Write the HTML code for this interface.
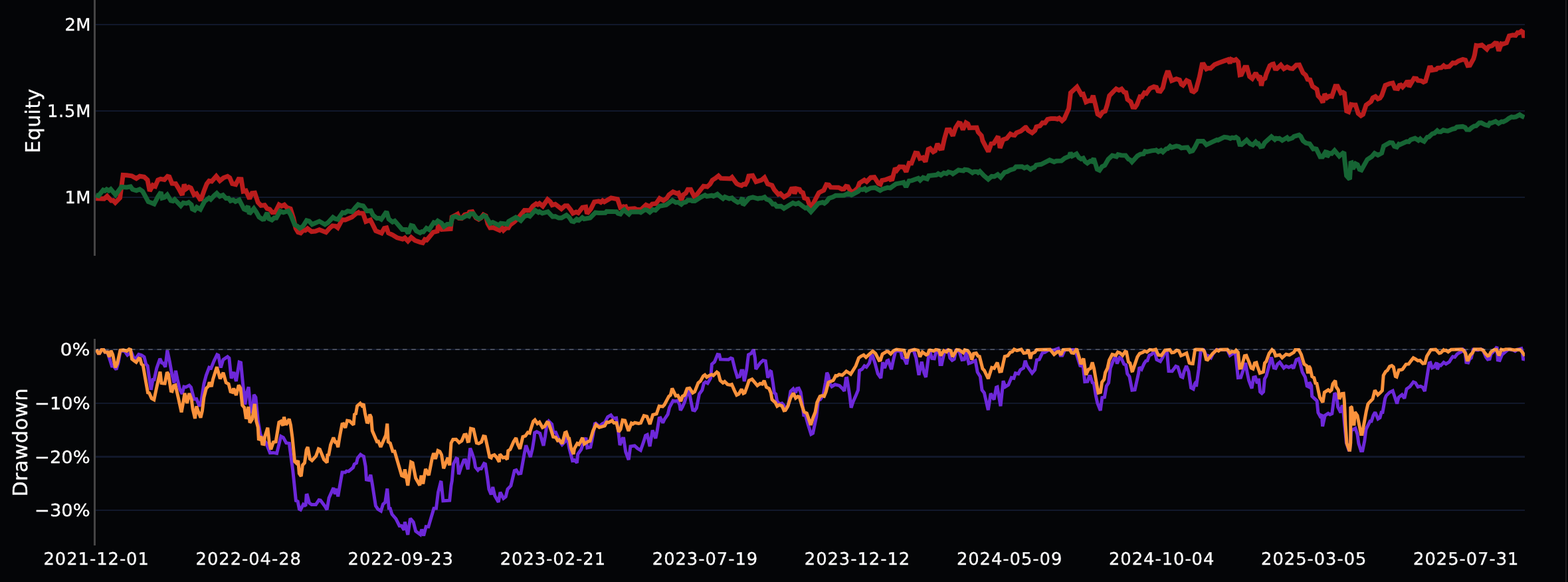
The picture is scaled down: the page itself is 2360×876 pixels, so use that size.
<!DOCTYPE html>
<html lang="en"><head><meta charset="utf-8"><title>Equity and Drawdown</title>
<style>html,body{margin:0;padding:0;background:#040507;width:2360px;height:876px;overflow:hidden}svg{display:block}text{font-family:"DejaVu Sans", "Liberation Sans", sans-serif;text-rendering:geometricPrecision;fill:#ffffff;stroke:#ffffff;stroke-width:0.3px;stroke-linejoin:round}.tk{font-size:25.8px}.tt{font-size:30.2px}.ln{fill:none;stroke-width:7.0;stroke-linejoin:miter;stroke-miterlimit:2;stroke-linecap:butt}</style></head><body>
<svg width="2360" height="876" viewBox="0 0 2360 876">
<defs><clipPath id="c1"><rect x="144" y="0" width="2151" height="386"/></clipPath><clipPath id="c2"><rect x="144" y="508" width="2151" height="314"/></clipPath></defs>
<rect x="0" y="0" width="2360" height="876" fill="#040507"/>
<rect x="2356" y="0" width="2" height="876" fill="#1c1c1e"/>
<g fill="#11182b" shape-rendering="crispEdges">
<rect x="144" y="36" width="2151" height="2"/>
<rect x="144" y="166" width="2151" height="2"/>
<rect x="144" y="296" width="2151" height="2"/>
<rect x="144" y="525" width="2151" height="2"/>
<rect x="144" y="606" width="2151" height="2"/>
<rect x="144" y="686" width="2151" height="3"/>
<rect x="144" y="767" width="2151" height="2"/>
</g>
<g clip-path="url(#c1)">
<path class="ln" stroke="#b91c1c" d="M144.2,298.8 L156.8,299.1 L161.2,295.2 L167.3,301.9 L170.4,301.7 L173.5,304.9 L180.5,297.9 L185.2,263.4 L190.8,263.7 L198.5,264.9 L205.2,268.6 L210.4,265.2 L217.0,266.2 L222.0,270.9 L225.3,287.5 L230.0,278.8 L233.7,280.4 L237.7,271.0 L241.7,269.3 L247.5,270.4 L252.1,265.4 L254.9,266.1 L259.0,276.2 L264.4,276.4 L268.8,283.6 L274.2,293.5 L277.2,277.7 L280.1,284.2 L284.2,281.5 L287.3,282.9 L292.0,293.2 L295.8,291.5 L302.0,301.6 L306.9,287.8 L311.2,276.8 L314.7,272.2 L318.7,272.9 L325.5,265.2 L330.9,272.0 L336.6,267.5 L342.5,265.3 L345.8,267.5 L349.6,276.5 L354.8,277.7 L359.0,269.7 L363.1,269.9 L366.1,288.0 L370.2,287.1 L375.6,299.2 L379.3,290.8 L383.5,290.3 L388.3,304.7 L392.7,309.4 L398.3,308.7 L402.0,313.9 L406.0,315.1 L409.7,319.6 L414.2,319.5 L420.0,308.0 L423.9,310.2 L428.0,308.2 L431.6,312.3 L437.2,314.3 L441.7,328.5 L445.1,343.7 L448.6,349.5 L452.5,350.7 L456.2,346.6 L459.4,346.9 L462.9,343.9 L468.9,348.6 L474.7,348.0 L480.7,345.7 L490.7,349.7 L495.9,343.7 L500.3,339.8 L505.2,340.4 L508.4,342.8 L514.9,330.7 L519.7,330.9 L525.6,328.5 L529.8,326.8 L535.8,321.7 L539.4,319.9 L540.2,320.8 L546.4,321.1 L550.7,333.5 L557.5,331.0 L565.6,347.4 L574.3,350.8 L578.4,343.6 L581.8,342.8 L584.6,350.8 L590.8,353.6 L597.6,357.8 L606.0,360.0 L609.4,358.0 L614.0,362.9 L619.0,357.4 L624.7,362.0 L632.4,364.6 L636.3,365.5 L639.4,360.4 L642.4,361.3 L652.0,349.5 L658.2,348.0 L659.9,337.8 L664.8,345.4 L678.2,344.4 L680.2,326.7 L684.1,324.7 L688.6,322.2 L691.3,328.5 L694.9,328.6 L699.4,323.2 L705.0,321.9 L706.4,319.2 L710.9,318.6 L716.4,328.0 L720.5,330.2 L723.9,328.1 L727.6,323.2 L731.2,325.0 L734.1,336.6 L737.7,342.9 L742.5,342.6 L751.5,346.4 L754.4,340.8 L757.9,346.5 L762.1,342.8 L765.2,342.9 L768.0,338.3 L773.9,334.1 L780.7,327.3 L789.3,316.6 L797.4,316.7 L801.9,310.3 L806.9,306.7 L809.4,308.0 L812.0,306.2 L817.0,310.3 L824.1,300.2 L828.1,303.6 L831.0,308.6 L835.7,307.3 L845.0,314.4 L850.3,309.7 L854.2,309.8 L858.6,315.4 L862.3,321.2 L867.1,319.1 L870.3,320.5 L876.6,312.3 L881.6,311.5 L883.5,321.6 L889.2,314.6 L894.5,303.9 L901.0,302.9 L904.3,304.5 L907.0,302.0 L909.6,303.8 L919.7,297.9 L929.5,299.7 L933.7,312.4 L937.3,311.2 L940.6,316.4 L940.6,308.2 L943.6,315.8 L946.8,314.4 L955.2,313.7 L958.6,315.3 L964.5,315.8 L972.3,308.4 L978.0,311.0 L981.6,307.0 L987.3,306.5 L992.8,298.7 L998.5,301.9 L1003.6,298.3 L1006.9,293.2 L1012.9,288.7 L1018.8,291.2 L1021.1,290.4 L1025.6,301.4 L1028.3,293.3 L1032.3,290.6 L1035.2,285.2 L1039.6,285.2 L1044.6,295.2 L1048.5,293.2 L1058.8,280.2 L1064.5,281.0 L1068.8,277.1 L1072.2,271.2 L1077.3,267.8 L1081.4,264.7 L1085.0,268.4 L1099.2,268.9 L1101.8,266.8 L1108.7,276.2 L1112.0,278.0 L1116.2,279.3 L1118.9,277.3 L1122.0,277.5 L1124.7,272.9 L1126.9,264.9 L1132.8,264.2 L1137.9,273.6 L1145.9,271.2 L1150.6,267.3 L1155.4,276.9 L1161.9,279.0 L1165.4,285.6 L1171.5,292.5 L1174.6,291.3 L1176.4,293.2 L1180.0,296.6 L1187.3,292.3 L1191.2,284.3 L1193.7,284.0 L1195.8,291.3 L1198.9,284.0 L1203.3,285.0 L1205.4,288.8 L1208.4,290.1 L1210.7,298.0 L1215.2,299.5 L1220.4,314.0 L1228.1,298.3 L1232.5,290.0 L1239.8,286.3 L1243.8,277.8 L1247.5,278.2 L1250.3,281.9 L1262.0,282.2 L1267.1,284.7 L1270.3,284.4 L1273.3,280.3 L1276.2,280.8 L1280.2,288.4 L1285.7,287.9 L1290.8,283.1 L1293.6,275.5 L1300.9,271.0 L1304.4,273.5 L1310.5,267.2 L1316.0,266.6 L1322.2,276.3 L1325.1,277.5 L1327.6,271.5 L1333.2,270.3 L1339.2,268.0 L1340.5,270.3 L1343.0,269.7 L1347.3,253.1 L1349.9,256.2 L1353.8,251.0 L1360.0,251.2 L1363.9,258.7 L1368.3,245.6 L1371.9,245.7 L1377.8,230.3 L1381.2,230.7 L1384.5,238.5 L1389.0,237.2 L1392.9,243.5 L1397.1,224.7 L1400.0,223.5 L1404.6,228.5 L1407.6,226.8 L1411.0,216.4 L1414.9,223.7 L1418.3,223.1 L1421.4,209.2 L1425.3,195.4 L1429.5,195.3 L1434.2,204.5 L1438.3,192.2 L1442.8,185.2 L1445.6,185.8 L1449.3,195.2 L1453.9,184.7 L1456.8,186.4 L1459.1,192.4 L1463.7,192.2 L1470.0,192.1 L1472.3,198.9 L1477.2,204.1 L1479.0,211.7 L1487.6,228.2 L1492.0,216.4 L1495.8,215.6 L1502.3,205.2 L1505.1,222.8 L1509.7,210.3 L1515.3,208.2 L1520.7,201.6 L1523.9,203.2 L1527.1,203.6 L1529.9,199.9 L1536.6,197.3 L1543.4,191.7 L1544.1,191.7 L1547.6,196.4 L1553.5,199.9 L1557.7,196.4 L1559.8,190.9 L1565.3,189.5 L1569.0,184.9 L1572.9,185.0 L1576.6,179.7 L1581.5,178.6 L1588.3,178.6 L1591.6,179.3 L1594.2,177.8 L1598.5,181.7 L1601.9,178.6 L1608.6,163.4 L1611.4,139.8 L1621.0,130.8 L1627.5,142.2 L1630.3,141.6 L1634.6,153.5 L1639.2,151.6 L1642.2,151.7 L1645.2,144.0 L1648.5,156.6 L1652.1,171.7 L1655.8,174.0 L1659.6,168.6 L1663.4,167.3 L1666.3,158.3 L1669.8,144.0 L1676.4,137.1 L1679.9,133.7 L1684.1,135.9 L1688.1,133.9 L1691.8,138.6 L1694.7,139.3 L1697.0,149.7 L1701.8,153.3 L1704.8,161.1 L1708.4,161.3 L1711.2,157.5 L1715.8,145.6 L1718.6,145.9 L1722.4,139.7 L1725.4,140.6 L1730.8,133.0 L1736.6,130.5 L1740.6,131.5 L1742.9,136.8 L1746.5,137.4 L1750.2,132.0 L1753.6,117.6 L1756.6,108.9 L1759.0,108.9 L1763.5,121.4 L1770.5,118.7 L1775.4,120.4 L1778.1,126.9 L1780.5,128.3 L1786.0,121.1 L1789.7,122.9 L1793.7,136.9 L1796.7,138.2 L1800.0,135.3 L1805.3,115.9 L1809.2,97.1 L1811.7,96.9 L1815.7,103.8 L1818.8,102.5 L1822.1,102.9 L1828.1,97.3 L1834.1,94.7 L1843.4,91.4 L1848.2,89.8 L1851.2,95.1 L1853.2,89.5 L1857.0,91.1 L1860.2,89.6 L1863.6,93.1 L1866.2,112.8 L1868.5,112.3 L1873.5,101.3 L1876.8,101.3 L1880.7,115.1 L1884.8,118.4 L1890.1,109.9 L1893.7,116.8 L1896.3,114.0 L1898.5,129.0 L1900.3,120.1 L1904.0,118.0 L1905.9,111.4 L1911.2,98.8 L1914.4,96.9 L1916.5,96.4 L1919.1,103.2 L1921.9,103.4 L1927.8,97.8 L1932.4,103.5 L1937.3,100.8 L1941.5,102.9 L1945.6,103.4 L1951.0,98.0 L1955.6,97.6 L1961.1,109.6 L1965.2,113.1 L1968.0,119.5 L1971.8,120.2 L1975.5,129.9 L1982.0,134.4 L1984.0,144.3 L1988.1,148.6 L1991.0,154.3 L1993.8,141.4 L1997.5,147.1 L2000.9,144.7 L2004.6,145.2 L2009.8,129.8 L2013.2,129.7 L2018.1,139.9 L2021.2,138.9 L2023.4,140.3 L2026.7,167.0 L2029.8,168.3 L2033.6,157.3 L2037.3,157.9 L2040.2,157.9 L2044.2,170.6 L2048.4,174.1 L2051.5,172.2 L2056.1,158.1 L2063.5,152.8 L2066.3,147.1 L2070.2,145.2 L2073.9,148.9 L2077.0,147.7 L2079.7,143.6 L2085.0,128.5 L2091.5,125.8 L2096.1,124.9 L2099.5,133.0 L2103.8,133.5 L2106.2,128.5 L2108.3,128.0 L2111.1,131.0 L2115.3,126.6 L2117.2,123.6 L2119.6,123.4 L2120.7,130.6 L2128.2,117.9 L2132.0,118.4 L2134.1,121.2 L2139.0,121.6 L2142.4,123.6 L2145.5,122.2 L2151.4,101.8 L2153.8,101.7 L2155.6,105.5 L2161.7,104.4 L2163.7,102.3 L2169.4,101.9 L2172.9,98.8 L2175.5,100.9 L2181.3,100.2 L2186.6,94.7 L2190.6,95.0 L2194.9,91.9 L2201.7,89.5 L2205.6,90.5 L2209.0,98.7 L2212.4,98.3 L2217.8,88.5 L2219.5,82.5 L2221.9,68.5 L2224.6,68.9 L2230.4,67.7 L2237.9,74.1 L2240.8,70.0 L2245.7,68.9 L2250.1,65.0 L2252.9,65.3 L2255.8,76.5 L2259.7,65.8 L2261.9,66.3 L2267.5,64.5 L2271.5,54.1 L2277.1,52.9 L2281.1,53.3 L2284.1,49.1 L2286.4,49.3 L2289.8,46.9 L2292.4,48.6 L2293.9,56.5 L2294.9,52.0"/>
<path class="ln" stroke="#166534" d="M144.2,293.7 L148.3,294.8 L155.3,286.1 L157.8,287.2 L160.4,285.1 L163.7,287.1 L166.7,284.8 L173.9,293.3 L182.6,281.4 L190.8,281.9 L196.5,280.8 L199.5,285.1 L205.2,286.8 L210.3,284.9 L214.6,287.8 L223.2,303.7 L226.4,304.7 L232.0,307.0 L237.5,296.3 L242.2,289.1 L244.1,298.1 L247.6,297.1 L251.7,293.2 L257.1,302.0 L260.2,302.7 L262.9,300.2 L272.1,309.8 L275.8,305.3 L280.6,306.2 L284.0,304.6 L288.1,308.2 L289.5,314.7 L293.0,316.4 L296.2,311.9 L301.6,315.1 L307.9,303.1 L311.2,300.5 L314.5,298.0 L317.2,300.1 L322.2,294.6 L326.3,290.9 L330.8,295.6 L335.6,293.6 L340.1,298.5 L344.0,298.4 L347.0,302.3 L351.0,300.9 L354.4,303.4 L360.0,300.9 L367.3,314.8 L369.5,315.7 L373.4,310.2 L375.2,322.0 L382.1,313.8 L385.8,319.2 L390.0,326.8 L395.1,330.0 L397.4,329.7 L402.0,320.3 L404.7,329.1 L409.3,331.2 L413.0,327.9 L416.0,328.0 L421.7,317.8 L426.5,319.8 L433.8,317.5 L437.5,323.4 L443.6,338.5 L447.6,340.4 L451.1,343.6 L456.1,340.3 L461.5,331.8 L465.3,332.8 L469.8,337.8 L480.7,333.1 L489.1,338.0 L493.4,335.3 L501.1,327.0 L504.4,329.3 L508.4,330.3 L515.6,319.8 L518.8,320.5 L523.1,317.7 L529.7,318.7 L534.9,312.4 L540.6,306.1 L540.7,308.8 L546.7,310.0 L552.1,317.5 L558.3,317.2 L561.3,323.8 L567.2,328.7 L570.5,328.3 L573.8,330.2 L581.8,318.5 L585.1,329.7 L590.8,334.2 L594.2,332.5 L605.4,345.6 L611.0,345.6 L614.3,351.3 L618.8,339.4 L622.0,340.2 L626.5,347.5 L632.3,350.5 L635.0,348.7 L637.3,348.9 L641.8,343.5 L645.8,345.6 L652.9,334.9 L655.9,335.9 L658.9,332.5 L664.6,335.8 L668.2,341.1 L673.1,337.6 L678.4,337.6 L681.1,326.9 L685.7,325.8 L690.8,328.1 L695.9,328.0 L702.7,324.3 L705.8,325.4 L708.1,321.8 L712.7,321.7 L717.1,327.3 L721.3,329.3 L728.2,324.5 L731.5,326.4 L737.7,336.3 L741.7,334.5 L745.9,336.6 L750.8,339.1 L753.7,336.1 L758.6,336.6 L763.3,337.5 L765.5,333.3 L776.4,327.0 L780.7,329.8 L783.9,332.0 L789.2,325.7 L794.2,324.1 L797.5,325.6 L805.4,316.6 L810.3,319.8 L812.1,318.6 L816.3,321.0 L824.6,318.6 L831.7,326.1 L835.7,325.7 L840.8,328.1 L845.1,328.0 L852.6,323.8 L856.9,327.3 L860.5,333.0 L863.6,333.7 L868.0,329.8 L871.3,331.6 L876.4,327.4 L879.1,329.5 L888.2,328.0 L896.1,320.0 L901.0,320.5 L911.1,320.3 L913.0,318.2 L927.9,318.6 L930.0,321.2 L933.8,322.3 L937.5,317.1 L939.3,315.9 L940.0,317.0 L946.6,322.4 L949.5,318.9 L962.0,318.7 L964.5,319.8 L970.6,315.6 L973.9,316.2 L978.1,319.4 L982.5,315.6 L986.5,316.5 L992.6,310.3 L1002.7,308.4 L1012.0,301.6 L1017.2,304.9 L1020.5,304.4 L1025.5,307.6 L1028.2,305.2 L1032.3,304.1 L1035.1,301.2 L1040.0,301.4 L1041.7,302.4 L1045.9,302.4 L1055.3,296.6 L1061.1,293.7 L1063.8,295.5 L1071.3,294.2 L1073.9,295.4 L1079.8,292.3 L1084.9,296.6 L1088.2,299.0 L1091.0,296.4 L1097.6,299.0 L1101.7,298.0 L1104.4,300.8 L1110.4,304.7 L1114.4,303.2 L1117.6,297.5 L1118.2,308.9 L1127.4,298.4 L1133.2,296.8 L1140.8,299.0 L1143.4,298.3 L1146.8,298.2 L1150.8,296.6 L1153.6,299.9 L1158.6,301.8 L1163.0,307.2 L1166.1,307.1 L1169.0,310.6 L1175.5,310.4 L1179.9,313.7 L1193.4,305.5 L1197.6,307.3 L1201.8,305.6 L1212.1,313.2 L1214.5,312.4 L1220.5,318.7 L1231.6,306.1 L1238.2,304.5 L1240.8,306.0 L1244.2,303.4 L1247.7,298.5 L1253.6,296.6 L1257.8,294.2 L1270.5,294.0 L1276.4,291.1 L1281.5,293.6 L1291.7,288.1 L1294.4,285.1 L1298.4,285.5 L1301.6,283.9 L1303.8,286.4 L1310.3,283.1 L1317.1,282.4 L1324.7,286.7 L1328.1,284.7 L1335.8,282.3 L1339.8,282.9 L1340.0,282.9 L1348.5,276.9 L1356.1,275.3 L1360.0,274.4 L1363.7,281.4 L1368.2,272.3 L1372.2,271.9 L1382.1,268.3 L1385.0,271.3 L1389.3,267.3 L1395.5,269.2 L1397.9,264.6 L1409.4,263.3 L1412.1,261.4 L1416.2,263.6 L1420.6,260.3 L1424.6,261.3 L1427.4,258.8 L1432.3,260.1 L1434.2,261.7 L1442.6,256.0 L1450.0,257.1 L1452.0,255.2 L1456.9,255.8 L1461.2,258.3 L1463.7,260.1 L1466.3,258.4 L1470.4,258.5 L1472.2,259.9 L1474.8,257.9 L1480.7,264.2 L1487.4,269.9 L1492.6,265.4 L1496.7,265.7 L1501.7,262.6 L1506.1,266.8 L1512.1,259.3 L1516.3,258.3 L1520.5,255.8 L1526.4,254.0 L1529.1,251.0 L1538.3,250.8 L1541.7,252.8 L1545.9,251.2 L1551.0,254.9 L1554.4,252.5 L1556.8,252.1 L1559.6,248.4 L1567.1,247.3 L1573.9,243.9 L1579.8,240.9 L1586.6,243.6 L1590.0,242.2 L1597.6,242.0 L1602.7,238.0 L1609.3,235.2 L1611.1,230.0 L1613.9,234.9 L1620.3,231.6 L1623.9,237.1 L1627.3,239.3 L1630.4,238.1 L1633.2,243.1 L1636.6,245.6 L1640.9,242.5 L1643.3,243.1 L1646.2,238.5 L1651.3,254.7 L1654.9,256.4 L1658.7,250.8 L1662.8,248.9 L1668.0,239.7 L1674.0,234.2 L1680.4,235.7 L1682.7,232.6 L1687.5,233.7 L1694.1,234.0 L1698.5,239.6 L1701.0,240.6 L1703.7,243.8 L1712.0,234.6 L1716.3,232.1 L1721.1,231.7 L1723.4,227.8 L1726.5,228.5 L1733.2,226.9 L1739.8,226.1 L1740.1,226.0 L1743.4,228.4 L1747.5,226.3 L1750.3,228.7 L1755.3,224.0 L1757.7,223.7 L1761.2,220.0 L1763.8,221.8 L1770.5,219.8 L1774.7,220.5 L1778.2,222.8 L1782.4,222.2 L1787.2,221.9 L1791.2,228.2 L1794.9,227.1 L1798.5,221.4 L1803.0,212.5 L1811.0,212.4 L1815.7,217.9 L1824.7,213.7 L1831.5,210.5 L1833.2,211.0 L1842.6,206.3 L1847.6,206.9 L1851.8,208.4 L1854.4,207.1 L1857.8,207.7 L1860.3,206.6 L1863.5,208.8 L1865.9,217.4 L1868.7,217.7 L1876.4,210.9 L1881.5,216.3 L1885.6,218.1 L1889.9,213.6 L1892.6,216.6 L1894.1,216.2 L1897.1,220.8 L1900.7,220.2 L1903.6,214.6 L1913.6,205.6 L1918.7,210.0 L1920.7,208.1 L1923.9,208.6 L1925.5,208.2 L1929.9,211.4 L1937.2,207.1 L1939.4,209.7 L1945.1,207.8 L1947.6,205.3 L1955.2,203.1 L1957.8,205.3 L1961.2,212.0 L1965.5,215.3 L1971.2,216.5 L1976.6,224.2 L1979.0,223.9 L1981.3,224.3 L1987.0,236.1 L1990.6,236.1 L1996.3,226.6 L1997.2,236.3 L2001.2,230.5 L2004.3,231.1 L2008.6,226.5 L2015.7,235.1 L2022.9,228.9 L2023.9,241.7 L2026.6,264.5 L2031.5,269.9 L2033.0,245.4 L2034.2,245.0 L2036.3,254.1 L2040.3,246.4 L2043.2,247.8 L2046.2,255.0 L2049.0,256.0 L2057.9,240.1 L2064.6,235.8 L2068.9,230.8 L2073.9,233.6 L2079.6,230.5 L2082.6,219.8 L2091.7,214.6 L2095.7,215.0 L2098.7,220.3 L2102.4,221.4 L2105.4,217.1 L2107.0,217.7 L2117.1,213.0 L2120.4,213.3 L2123.1,210.4 L2129.8,208.2 L2133.2,210.3 L2134.8,211.3 L2137.5,209.0 L2139.8,211.2 L2143.4,212.9 L2148.2,206.5 L2150.6,206.1 L2155.8,201.3 L2158.9,200.5 L2163.2,196.6 L2165.4,198.4 L2168.4,198.5 L2172.3,195.8 L2176.1,196.7 L2179.2,197.2 L2186.2,194.2 L2190.0,193.5 L2192.7,191.2 L2201.5,190.4 L2205.2,191.8 L2207.4,195.1 L2211.6,195.2 L2214.8,192.3 L2218.7,189.8 L2221.7,189.5 L2226.4,184.9 L2229.4,184.8 L2235.2,187.8 L2239.9,189.0 L2242.4,185.1 L2244.7,185.2 L2251.0,182.6 L2255.5,185.8 L2260.0,183.0 L2262.5,183.3 L2267.6,180.8 L2270.8,178.3 L2275.2,176.0 L2277.8,176.4 L2281.6,175.8 L2287.3,172.6 L2291.1,175.1 L2294.3,176.4"/>
</g>
<g clip-path="url(#c2)">
<path class="ln" style="stroke-width:5.0" stroke="#6d28d9" d="M145.1,526.1 L147.9,531.7 L149.9,531.7 L152.9,526.4 L155.9,526.4 L158.0,530.0 L161.7,530.0 L165.4,541.4 L168.3,550.7 L170.4,550.3 L175.0,556.3 L178.1,545.6 L181.1,528.3 L187.3,528.1 L191.8,534.4 L195.1,532.0 L198.1,531.1 L201.2,538.7 L204.2,539.9 L208.8,533.4 L212.9,534.6 L217.0,537.2 L219.7,548.1 L222.1,550.7 L224.7,569.3 L227.3,586.7 L230.1,571.5 L232.1,571.4 L235.8,554.1 L240.8,539.8 L243.6,546.2 L245.8,546.7 L248.8,552.4 L251.8,527.4 L255.3,543.9 L258.6,562.5 L262.1,576.4 L264.5,557.9 L267.1,571.0 L270.5,585.4 L274.1,593.0 L276.9,582.1 L279.8,582.7 L284.8,580.1 L287.5,582.9 L292.1,600.8 L295.7,600.4 L300.1,611.6 L302.7,604.9 L306.9,577.8 L310.3,565.1 L314.8,553.2 L317.7,554.1 L322.2,543.1 L326.7,533.8 L328.7,534.8 L332.3,553.4 L335.9,541.4 L342.5,536.9 L344.9,538.9 L348.1,569.5 L352.0,560.0 L355.4,573.9 L360.1,545.1 L362.5,545.9 L365.4,576.1 L368.8,608.8 L371.4,591.4 L374.1,582.6 L376.4,606.6 L380.0,622.3 L382.2,594.0 L384.9,598.2 L388.3,633.7 L391.7,652.5 L394.2,659.3 L400.2,666.1 L406.4,681.7 L411.2,681.4 L416.6,682.3 L422.8,656.6 L426.4,658.5 L430.8,666.7 L435.3,667.4 L438.3,689.8 L440.8,708.5 L441.7,717.3 L445.4,753.5 L448.2,754.8 L450.4,766.3 L452.4,767.2 L456.5,759.2 L460.0,761.7 L461.1,745.6 L462.4,745.3 L465.5,757.0 L468.9,759.5 L475.4,759.4 L480.0,752.5 L482.3,753.0 L489.2,762.2 L492.1,767.2 L495.1,749.5 L501.9,734.3 L504.3,743.6 L507.3,735.7 L508.7,747.4 L511.2,732.5 L515.0,711.1 L519.6,711.1 L521.5,709.1 L524.7,709.4 L531.5,703.7 L533.3,698.7 L536.5,696.8 L538.3,689.3 L542.6,684.2 L545.1,685.9 L547.4,687.0 L550.2,702.0 L551.5,721.9 L554.9,722.6 L557.9,714.6 L560.3,728.3 L565.4,761.4 L568.8,766.4 L573.4,769.2 L576.5,758.9 L579.7,756.2 L582.8,735.4 L585.3,765.0 L587.2,765.2 L590.0,774.1 L595.9,780.8 L601.2,791.4 L604.3,791.4 L608.1,797.8 L609.4,785.5 L613.8,804.9 L617.5,780.3 L622.2,786.0 L625.7,799.4 L632.6,804.5 L634.7,796.8 L637.6,806.4 L641.2,792.6 L644.8,792.9 L653.0,765.2 L656.5,765.0 L659.5,741.0 L663.3,725.9 L664.1,726.1 L666.9,753.8 L676.7,753.2 L679.0,730.8 L680.3,723.6 L682.5,698.1 L686.7,690.0 L688.5,690.8 L690.5,714.1 L694.0,703.2 L698.1,692.7 L700.5,692.5 L704.3,706.5 L707.7,674.6 L710.5,682.2 L713.7,691.8 L715.6,703.2 L719.3,707.6 L721.4,705.3 L724.3,705.4 L728.6,697.6 L730.5,698.4 L733.4,717.2 L735.9,736.3 L739.2,744.4 L741.7,733.1 L744.8,746.4 L750.2,755.7 L752.9,741.0 L757.8,750.2 L761.2,747.6 L764.0,736.3 L768.9,731.1 L774.3,708.5 L777.0,707.6 L780.6,713.0 L783.9,712.4 L789.3,682.2 L791.7,670.3 L795.0,679.1 L798.3,687.8 L801.4,675.3 L803.9,660.0 L804.7,651.4 L807.8,649.8 L812.7,652.2 L818.0,670.9 L820.5,657.1 L823.1,637.6 L825.8,633.9 L830.6,638.5 L832.8,650.6 L836.4,650.7 L841.7,663.1 L846.0,669.2 L850.2,664.7 L852.8,654.3 L856.9,674.9 L861.6,693.3 L864.5,692.3 L868.4,696.7 L869.7,683.4 L874.7,676.6 L878.1,666.4 L881.9,658.8 L883.9,673.9 L888.8,672.9 L892.5,654.6 L895.4,637.8 L896.7,637.2 L901.9,641.9 L906.9,637.6 L910.3,635.9 L914.7,627.5 L919.5,624.8 L923.2,629.7 L927.6,629.1 L930.7,649.5 L933.0,670.0 L936.9,660.1 L938.7,660.2 L941.7,680.0 L946.2,692.0 L948.9,672.0 L955.2,670.9 L959.5,674.9 L964.2,677.8 L968.8,664.7 L971.6,655.6 L974.2,654.3 L978.1,671.9 L982.1,647.7 L986.8,659.8 L989.2,647.8 L992.1,629.5 L994.0,629.0 L997.6,636.5 L1000.0,631.2 L1005.1,623.6 L1007.6,613.4 L1013.0,603.1 L1016.1,604.0 L1020.0,603.0 L1022.9,609.2 L1024.2,617.6 L1027.1,612.5 L1030.5,604.9 L1033.9,593.1 L1036.7,586.2 L1039.8,603.2 L1042.7,617.3 L1045.6,618.0 L1048.3,614.2 L1052.5,593.1 L1056.8,587.1 L1059.4,577.0 L1061.9,575.0 L1065.1,576.8 L1069.5,569.3 L1071.4,548.2 L1075.4,544.7 L1080.0,533.5 L1082.7,534.0 L1084.3,540.9 L1096.6,541.2 L1100.0,539.1 L1102.3,539.9 L1105.9,554.9 L1109.8,567.6 L1113.3,566.6 L1115.7,558.0 L1118.1,558.0 L1120.2,574.0 L1123.7,556.6 L1126.5,533.9 L1130.5,532.0 L1134.2,526.3 L1136.4,538.8 L1137.7,555.7 L1144.1,546.4 L1148.4,542.5 L1152.2,543.4 L1155.7,568.6 L1159.6,558.7 L1160.7,559.3 L1163.6,577.8 L1165.4,591.3 L1167.7,593.1 L1169.6,604.0 L1173.0,607.9 L1177.0,607.0 L1179.7,610.0 L1182.0,617.4 L1186.4,610.0 L1190.0,588.9 L1193.9,585.2 L1197.6,591.1 L1199.4,584.9 L1202.2,584.3 L1205.1,590.5 L1207.6,607.5 L1209.7,624.9 L1212.5,625.6 L1216.1,638.8 L1220.8,653.6 L1223.5,652.2 L1228.8,626.9 L1231.7,602.0 L1234.6,601.3 L1239.0,594.7 L1242.4,576.1 L1244.6,560.8 L1246.6,565.1 L1249.2,577.8 L1251.9,581.9 L1256.8,578.8 L1263.5,580.4 L1267.8,584.6 L1270.8,588.6 L1273.3,569.7 L1274.8,569.4 L1278.8,594.7 L1281.1,613.7 L1283.9,604.9 L1288.1,595.6 L1291.5,587.1 L1293.5,557.7 L1297.4,555.7 L1301.0,550.7 L1304.1,552.4 L1308.5,546.4 L1311.3,535.7 L1313.2,535.3 L1316.9,546.4 L1321.2,562.5 L1325.8,569.2 L1328.5,545.4 L1331.5,554.1 L1335.0,543.2 L1336.9,542.4 L1341.6,555.9 L1344.9,540.5 L1347.9,528.3 L1355.5,528.3 L1357.9,538.6 L1360.9,539.8 L1364.6,548.2 L1367.8,531.2 L1371.3,527.2 L1375.1,527.4 L1378.8,538.8 L1383.0,564.6 L1387.3,544.5 L1390.7,560.8 L1393.5,567.8 L1396.6,543.9 L1398.4,530.4 L1400.5,526.8 L1400.5,532.0 L1402.8,539.4 L1406.3,539.8 L1409.9,525.4 L1413.5,532.1 L1415.0,548.4 L1417.3,548.4 L1421.3,530.4 L1424.7,527.3 L1427.6,528.1 L1429.8,538.8 L1433.1,542.3 L1436.2,540.4 L1438.7,527.8 L1443.8,528.9 L1447.9,541.5 L1451.4,541.0 L1454.3,530.1 L1458.1,547.0 L1461.9,545.6 L1465.3,543.9 L1468.1,542.7 L1471.2,560.0 L1475.4,566.8 L1478.0,587.1 L1481.4,591.4 L1487.3,617.1 L1491.2,592.2 L1496.1,601.5 L1499.5,583.1 L1501.1,582.5 L1506.0,611.3 L1510.0,573.3 L1513.1,582.3 L1517.7,579.4 L1522.3,568.4 L1525.9,569.3 L1528.4,561.7 L1532.8,562.7 L1535.7,556.7 L1540.5,553.9 L1543.1,542.9 L1545.8,550.7 L1553.4,561.7 L1557.6,556.6 L1560.5,541.8 L1564.2,541.1 L1568.8,531.4 L1572.9,530.3 L1578.0,527.0 L1586.4,526.9 L1592.7,524.6 L1596.1,535.0 L1598.9,535.0 L1602.8,526.5 L1618.3,526.6 L1622.9,541.4 L1625.7,550.3 L1628.0,550.7 L1630.2,551.7 L1632.8,574.5 L1636.9,574.1 L1639.4,566.4 L1641.2,566.4 L1644.2,576.0 L1646.4,577.1 L1649.2,594.7 L1651.7,606.6 L1656.2,617.8 L1658.8,598.5 L1662.4,597.8 L1665.3,581.2 L1668.6,576.1 L1671.2,554.1 L1675.4,543.1 L1679.0,536.3 L1681.3,547.4 L1685.1,538.3 L1688.0,539.8 L1691.7,548.0 L1694.6,549.2 L1696.7,562.5 L1699.9,566.8 L1703.9,587.2 L1708.1,586.7 L1713.6,561.7 L1714.9,552.8 L1718.2,555.8 L1722.0,547.3 L1724.7,543.2 L1726.9,542.8 L1729.8,534.8 L1733.0,533.7 L1735.7,530.3 L1738.8,532.1 L1740.9,541.2 L1746.4,543.9 L1750.0,538.0 L1753.8,527.7 L1756.3,528.2 L1759.0,558.6 L1764.2,558.8 L1769.7,551.3 L1772.7,552.5 L1777.3,566.7 L1780.0,568.0 L1782.2,559.2 L1785.6,550.8 L1789.0,559.2 L1792.6,583.6 L1796.1,585.6 L1798.3,577.8 L1800.5,574.3 L1800.5,581.9 L1804.2,555.8 L1807.2,527.4 L1811.5,526.7 L1815.5,535.1 L1818.6,535.5 L1822.6,538.4 L1825.4,532.9 L1830.6,526.4 L1847.2,526.5 L1851.2,534.9 L1855.1,532.1 L1859.6,531.9 L1863.4,568.5 L1867.5,568.1 L1874.7,546.2 L1877.1,560.8 L1879.7,572.7 L1884.1,584.7 L1886.8,568.0 L1889.4,567.5 L1892.2,577.0 L1894.4,569.9 L1896.6,589.7 L1899.2,592.1 L1901.6,589.6 L1903.4,570.2 L1905.9,565.9 L1910.2,549.8 L1913.6,537.8 L1917.3,553.7 L1920.0,554.3 L1922.9,548.1 L1926.2,545.2 L1932.3,553.8 L1935.7,551.1 L1939.8,552.9 L1944.0,550.7 L1946.8,554.6 L1951.0,541.5 L1954.6,539.9 L1956.8,546.4 L1960.2,560.0 L1964.4,567.6 L1967.2,581.0 L1969.7,582.2 L1970.8,575.3 L1973.7,580.4 L1974.7,596.4 L1982.1,603.3 L1983.9,621.0 L1986.8,626.3 L1989.4,623.9 L1990.6,641.8 L1994.2,625.4 L1999.1,622.3 L2001.8,624.0 L2004.8,622.5 L2008.8,591.6 L2011.8,595.6 L2013.6,612.5 L2018.0,621.0 L2020.0,610.0 L2021.3,612.9 L2023.9,640.8 L2026.4,666.3 L2030.0,677.2 L2031.6,677.1 L2033.8,647.6 L2035.3,647.2 L2040.0,644.7 L2043.0,653.6 L2044.9,667.5 L2048.4,678.5 L2050.8,678.4 L2053.8,663.7 L2055.7,648.5 L2056.3,645.6 L2062.0,634.1 L2064.1,634.1 L2066.9,625.3 L2069.7,620.5 L2074.0,630.6 L2077.0,628.6 L2079.1,620.6 L2081.0,620.5 L2084.7,599.8 L2086.4,595.6 L2091.5,590.5 L2096.2,588.3 L2099.2,597.3 L2102.6,607.5 L2105.1,598.1 L2110.1,594.2 L2113.8,599.6 L2117.1,585.5 L2122.0,582.0 L2127.3,575.0 L2130.4,576.2 L2134.1,582.3 L2138.1,581.3 L2141.4,583.0 L2144.4,588.8 L2147.5,569.3 L2151.1,546.6 L2152.9,545.9 L2155.6,553.7 L2158.5,552.4 L2162.2,545.6 L2163.4,555.9 L2166.3,549.2 L2168.6,550.1 L2172.9,545.5 L2176.3,547.7 L2181.4,544.7 L2183.9,540.5 L2186.6,536.8 L2189.7,537.5 L2193.2,532.9 L2197.5,530.3 L2199.6,529.3 L2200.3,526.4 L2201.6,525.8 L2204.9,528.8 L2206.8,545.3 L2209.8,545.9 L2211.9,540.6 L2214.3,538.8 L2217.3,526.1 L2218.6,526.2 L2224.6,527.0 L2228.8,525.5 L2232.1,527.1 L2236.4,537.2 L2239.2,541.0 L2242.1,540.3 L2244.1,533.0 L2249.2,527.9 L2253.1,522.0 L2254.3,541.9 L2257.2,542.5 L2260.7,533.9 L2268.6,527.0 L2271.2,525.9 L2277.9,527.1 L2280.5,528.6 L2283.9,526.2 L2289.8,524.5 L2291.5,530.4 L2292.7,542.2 L2294.9,538.9"/>
<path class="ln" style="stroke-width:5.0" stroke="#fb923c" d="M145.1,526.1 L147.9,531.7 L149.9,531.7 L152.9,526.4 L155.9,526.4 L158.0,530.0 L161.8,530.0 L164.6,537.2 L167.0,527.8 L169.7,533.7 L173.6,553.2 L176.4,547.3 L181.0,527.4 L185.8,526.9 L190.8,528.4 L194.3,525.6 L196.5,526.4 L198.6,540.4 L201.9,543.1 L205.0,545.3 L208.9,539.4 L210.9,539.9 L213.0,548.1 L215.3,549.9 L218.0,565.9 L222.5,591.0 L224.6,591.6 L228.2,599.7 L231.8,601.7 L235.8,582.9 L241.0,559.6 L243.0,576.5 L245.9,576.9 L248.1,577.1 L251.4,560.2 L253.5,563.4 L257.4,588.5 L259.0,588.9 L261.5,580.5 L264.0,579.7 L268.8,600.7 L273.1,620.5 L275.6,606.6 L278.0,591.9 L281.5,606.9 L284.8,592.1 L288.3,601.5 L290.0,615.1 L293.5,629.9 L295.7,611.5 L299.3,621.9 L302.0,628.7 L304.4,618.5 L306.9,598.1 L310.4,584.6 L313.7,581.2 L315.2,575.3 L318.3,582.0 L320.5,571.0 L326.4,552.3 L331.3,570.0 L336.0,561.0 L340.2,575.9 L344.1,578.0 L347.0,589.5 L349.8,590.4 L351.7,584.6 L355.4,594.8 L359.3,579.6 L362.0,584.6 L364.7,609.9 L367.9,613.6 L370.1,628.5 L371.6,628.7 L373.9,612.2 L376.0,636.4 L379.8,630.5 L383.3,608.0 L385.8,633.9 L388.3,643.2 L389.4,662.7 L393.0,656.9 L394.7,668.2 L397.0,668.6 L398.5,657.6 L402.9,643.8 L405.3,666.1 L407.7,676.4 L411.4,665.6 L415.1,664.8 L419.9,635.7 L422.7,634.2 L425.8,640.8 L427.5,627.6 L430.5,639.7 L435.2,630.6 L437.5,639.8 L440.0,658.5 L443.6,694.8 L446.5,697.5 L448.7,693.1 L450.3,712.7 L453.2,716.8 L455.4,700.1 L458.5,696.6 L461.2,677.1 L463.2,672.9 L466.4,690.6 L469.6,693.1 L475.6,686.4 L479.4,675.6 L481.4,676.4 L487.5,691.5 L492.3,696.3 L492.9,685.1 L494.8,684.4 L497.6,669.5 L501.9,658.6 L504.6,665.5 L506.6,665.2 L508.7,673.2 L511.2,657.6 L514.9,638.4 L516.8,637.9 L519.8,644.0 L522.6,633.1 L526.4,633.9 L532.1,639.5 L533.5,623.9 L535.6,622.7 L537.6,611.1 L542.2,607.1 L544.6,610.5 L547.2,608.0 L549.3,621.2 L552.2,635.3 L553.9,635.6 L556.6,623.8 L558.6,628.0 L560.3,648.3 L567.3,664.6 L569.5,664.2 L573.0,672.7 L580.7,655.1 L582.8,637.6 L584.3,665.1 L587.3,667.0 L591.1,679.2 L593.9,679.3 L604.6,715.9 L607.9,717.2 L609.4,706.4 L613.8,730.9 L618.6,695.6 L621.1,696.8 L625.6,719.5 L631.8,730.5 L634.0,715.7 L636.7,728.3 L640.5,706.0 L645.4,715.2 L650.2,690.7 L652.6,682.1 L655.4,690.7 L659.1,678.3 L662.0,679.7 L664.6,684.7 L667.7,705.2 L674.0,688.9 L676.7,700.4 L679.0,666.9 L681.8,661.4 L686.5,661.2 L691.0,666.2 L695.0,663.5 L698.7,654.5 L701.4,654.1 L704.1,664.4 L705.7,664.1 L708.5,645.1 L712.6,646.1 L717.4,666.7 L720.5,667.6 L724.6,665.2 L727.7,656.6 L730.3,657.1 L734.1,674.6 L736.9,688.0 L739.2,689.1 L740.2,686.1 L744.1,684.7 L747.6,688.5 L751.4,695.3 L752.3,683.6 L757.0,688.9 L760.3,688.1 L763.4,691.6 L764.8,678.5 L767.9,676.5 L773.1,664.7 L776.7,659.0 L779.0,668.1 L782.6,675.7 L786.9,657.4 L790.8,656.2 L794.4,650.9 L797.2,651.8 L798.5,646.9 L802.7,634.2 L805.1,632.1 L808.8,637.5 L811.9,635.4 L816.5,643.5 L819.7,641.9 L823.3,635.7 L825.4,636.2 L829.0,646.1 L832.6,657.6 L836.5,658.2 L839.3,663.1 L841.7,662.0 L846.2,667.8 L850.4,651.4 L852.3,650.6 L855.5,660.1 L856.7,660.2 L859.5,674.9 L863.1,683.5 L864.6,674.9 L868.9,667.5 L871.3,668.9 L873.9,664.7 L876.7,658.9 L879.5,668.2 L884.9,664.7 L888.1,663.7 L892.5,648.6 L897.0,639.2 L902.0,643.2 L906.9,641.9 L910.2,640.9 L913.1,635.5 L916.3,635.8 L921.2,633.2 L924.0,636.5 L927.8,636.5 L931.2,650.0 L934.0,646.1 L937.1,632.4 L940.6,632.9 L945.9,648.6 L950.4,637.0 L952.7,638.1 L955.3,636.2 L961.2,637.5 L964.4,636.6 L969.2,625.6 L973.7,626.8 L978.2,638.5 L982.6,624.3 L988.1,623.0 L992.1,611.2 L997.5,611.9 L1000.0,609.2 L1006.8,596.4 L1009.2,594.7 L1011.7,584.6 L1017.1,595.8 L1020.2,595.3 L1024.7,603.9 L1027.2,596.5 L1030.4,594.7 L1034.1,584.9 L1037.9,584.2 L1042.6,591.3 L1045.6,589.6 L1050.9,576.2 L1054.2,573.6 L1058.5,565.9 L1060.9,564.3 L1063.7,567.7 L1067.8,565.1 L1071.1,563.7 L1073.7,565.2 L1078.9,560.0 L1081.2,561.8 L1084.0,572.7 L1088.1,576.2 L1090.7,574.3 L1095.0,578.6 L1099.1,579.4 L1101.4,578.6 L1105.1,587.1 L1108.8,594.6 L1111.9,593.1 L1116.2,585.8 L1118.9,592.1 L1121.0,591.2 L1124.6,581.2 L1127.3,572.9 L1132.0,570.8 L1139.9,580.3 L1144.1,577.2 L1147.3,578.0 L1150.1,572.9 L1153.5,582.7 L1157.5,584.7 L1160.2,591.4 L1162.0,601.5 L1166.9,605.8 L1169.7,611.4 L1172.9,609.4 L1177.0,611.0 L1180.0,617.8 L1182.1,617.4 L1185.6,611.7 L1189.8,599.0 L1194.2,591.7 L1197.6,599.2 L1200.9,596.8 L1203.2,597.5 L1206.8,610.0 L1210.3,620.0 L1214.3,622.0 L1220.3,639.7 L1223.7,628.6 L1227.1,620.2 L1229.7,605.8 L1234.1,596.6 L1237.3,595.7 L1240.4,596.5 L1243.2,589.7 L1246.8,575.5 L1254.1,572.6 L1257.8,565.5 L1260.1,565.7 L1262.8,563.7 L1267.7,564.8 L1273.8,558.9 L1277.1,560.8 L1280.4,563.1 L1288.1,550.7 L1292.5,538.9 L1295.8,536.3 L1299.9,534.3 L1303.4,537.8 L1306.8,534.6 L1313.6,528.6 L1317.8,532.0 L1323.1,542.4 L1325.2,542.0 L1328.1,533.0 L1334.8,528.9 L1337.2,529.6 L1340.6,532.7 L1345.0,527.8 L1349.2,526.1 L1360.7,527.3 L1363.9,537.5 L1365.7,537.5 L1368.9,528.0 L1376.3,526.1 L1381.9,527.3 L1384.6,537.0 L1388.3,529.9 L1394.1,534.1 L1396.5,532.8 L1398.5,527.2 L1399.8,526.9 L1400.0,526.9 L1405.0,528.4 L1408.5,526.3 L1413.3,527.2 L1416.0,535.2 L1420.5,527.8 L1424.5,529.7 L1427.3,526.6 L1431.1,528.0 L1433.7,536.9 L1440.0,526.5 L1444.0,527.0 L1449.7,530.9 L1452.0,526.7 L1456.7,527.9 L1460.2,532.9 L1462.7,541.4 L1465.5,532.3 L1469.3,531.6 L1472.1,536.1 L1474.3,536.6 L1478.9,554.9 L1481.4,557.5 L1487.4,570.0 L1492.7,553.3 L1496.4,554.3 L1501.0,545.7 L1504.7,559.2 L1507.3,558.8 L1512.2,536.6 L1516.9,535.3 L1520.4,530.4 L1523.7,529.4 L1526.4,525.9 L1530.5,527.6 L1537.1,525.8 L1540.9,531.6 L1544.8,531.0 L1547.7,526.3 L1550.9,539.9 L1552.8,532.2 L1557.6,530.3 L1560.3,526.4 L1580.4,526.0 L1586.5,533.5 L1591.5,529.5 L1593.9,529.2 L1596.7,534.3 L1600.2,526.5 L1610.0,526.1 L1612.9,531.0 L1615.9,531.6 L1619.7,526.2 L1620.9,526.4 L1624.6,538.8 L1626.9,548.1 L1630.9,539.6 L1634.5,564.3 L1638.3,555.9 L1641.3,554.7 L1644.1,545.5 L1646.6,554.9 L1650.8,579.5 L1653.1,591.2 L1656.4,590.2 L1658.6,575.3 L1661.8,571.0 L1663.6,560.8 L1666.9,554.1 L1669.5,542.2 L1674.0,533.5 L1679.4,534.9 L1682.4,530.1 L1685.6,531.2 L1689.6,534.9 L1693.5,529.2 L1695.4,529.8 L1698.4,544.7 L1700.7,546.5 L1703.8,558.3 L1704.8,558.1 L1711.9,537.1 L1715.3,532.1 L1720.3,530.3 L1722.9,528.3 L1726.2,529.9 L1730.6,526.3 L1735.6,526.9 L1739.5,525.9 L1743.4,534.3 L1748.1,535.0 L1753.5,527.2 L1760.8,526.5 L1763.7,530.8 L1766.9,530.3 L1771.2,527.2 L1774.4,528.0 L1777.5,535.3 L1781.4,533.7 L1785.9,531.6 L1790.1,546.2 L1793.2,547.3 L1795.3,547.4 L1798.6,526.4 L1799.8,526.1 L1800.0,526.1 L1810.1,526.3 L1812.6,528.7 L1815.5,541.1 L1817.6,541.7 L1825.4,532.0 L1831.4,526.7 L1833.9,528.2 L1836.5,526.2 L1847.3,526.0 L1851.0,531.1 L1854.3,528.9 L1858.3,529.9 L1860.4,527.3 L1863.4,530.4 L1865.9,554.0 L1868.3,553.7 L1873.2,535.7 L1875.9,535.2 L1880.5,546.4 L1883.2,554.0 L1885.9,555.3 L1888.4,546.6 L1891.0,545.8 L1892.4,550.7 L1896.2,561.6 L1901.4,559.8 L1903.5,546.5 L1905.9,543.9 L1910.2,532.0 L1914.5,526.4 L1917.8,529.5 L1919.9,535.5 L1926.1,534.1 L1929.8,538.5 L1935.7,533.2 L1940.7,534.4 L1947.4,530.3 L1949.4,526.5 L1954.8,526.5 L1958.5,533.7 L1962.8,548.0 L1966.8,550.8 L1968.6,562.2 L1969.9,550.8 L1972.0,554.1 L1974.7,566.7 L1977.8,568.6 L1979.9,576.7 L1981.9,577.3 L1986.4,598.1 L1991.0,605.7 L1993.4,590.6 L1999.1,586.9 L2001.7,589.0 L2004.1,587.0 L2006.0,577.8 L2009.8,572.9 L2011.0,582.0 L2014.4,587.1 L2015.8,600.8 L2019.7,592.5 L2022.2,592.2 L2023.3,602.7 L2025.2,640.8 L2027.1,667.5 L2030.6,677.2 L2031.6,677.2 L2032.8,666.3 L2032.8,612.2 L2034.4,613.2 L2036.6,628.1 L2037.9,640.6 L2039.3,620.2 L2043.0,625.6 L2045.5,638.3 L2048.5,653.6 L2050.1,653.6 L2053.1,637.0 L2056.3,619.2 L2058.9,608.4 L2060.2,606.6 L2066.0,600.6 L2069.3,587.3 L2073.8,594.3 L2078.0,590.5 L2080.4,587.9 L2082.2,565.1 L2085.6,559.2 L2088.1,557.5 L2091.6,551.6 L2094.8,550.3 L2097.3,552.4 L2100.3,566.6 L2102.1,567.4 L2105.4,557.0 L2109.3,556.6 L2111.0,555.7 L2116.2,548.3 L2120.2,547.9 L2123.7,543.1 L2127.2,538.7 L2130.5,540.5 L2133.9,542.9 L2137.2,542.5 L2141.6,547.1 L2144.6,546.8 L2147.5,536.3 L2153.6,526.4 L2160.9,526.0 L2166.2,531.7 L2168.6,531.1 L2172.9,526.7 L2174.6,527.6 L2176.2,527.2 L2179.7,529.7 L2184.0,526.2 L2199.8,525.8 L2200.0,525.8 L2202.5,527.1 L2205.9,532.1 L2208.1,541.8 L2209.8,541.8 L2212.7,534.7 L2216.1,531.3 L2218.9,525.7 L2222.9,525.8 L2228.8,525.8 L2232.1,527.1 L2235.6,532.1 L2239.1,535.6 L2241.4,534.9 L2244.1,529.6 L2249.2,526.2 L2252.3,526.2 L2255.4,533.5 L2256.8,533.7 L2259.7,526.1 L2262.7,526.9 L2266.1,525.8 L2272.9,525.8 L2279.7,527.0 L2283.1,526.2 L2288.0,526.4 L2291.5,530.4 L2293.7,533.7 L2294.9,533.0"/>
<line x1="144" y1="526" x2="2295" y2="526" stroke="#ffffff" stroke-opacity="0.23" stroke-width="2" stroke-dasharray="6.6 6.6"/>
</g>
<g fill="#444444" shape-rendering="crispEdges">
<rect x="141" y="0" width="3" height="385"/>
<rect x="141" y="510" width="3" height="311"/>
</g>
<g class="tk" text-anchor="end">
<text x="136.4" y="46.0" textLength="39.0" lengthAdjust="spacing">2M</text>
<text x="136.4" y="176.0" textLength="65.4" lengthAdjust="spacing">1.5M</text>
<text x="136.4" y="306.0" textLength="39.0" lengthAdjust="spacing">1M</text>
<text x="135.6" y="535.0" textLength="45.2" lengthAdjust="spacingAndGlyphs">0%</text>
<text x="135.6" y="616.0" textLength="83.6" lengthAdjust="spacingAndGlyphs">−10%</text>
<text x="135.6" y="696.6" textLength="83.6" lengthAdjust="spacingAndGlyphs">−20%</text>
<text x="135.6" y="777.0" textLength="83.6" lengthAdjust="spacingAndGlyphs">−30%</text>
</g>
<g class="tk" text-anchor="middle">
<text x="144.7" y="850" textLength="158.4" lengthAdjust="spacing">2021-12-01</text>
<text x="373.8" y="850" textLength="158.4" lengthAdjust="spacing">2022-04-28</text>
<text x="602.8" y="850" textLength="158.4" lengthAdjust="spacing">2022-09-23</text>
<text x="831.9" y="850" textLength="158.4" lengthAdjust="spacing">2023-02-21</text>
<text x="1061.0" y="850" textLength="158.4" lengthAdjust="spacing">2023-07-19</text>
<text x="1290.0" y="850" textLength="158.4" lengthAdjust="spacing">2023-12-12</text>
<text x="1519.1" y="850" textLength="158.4" lengthAdjust="spacing">2024-05-09</text>
<text x="1748.2" y="850" textLength="158.4" lengthAdjust="spacing">2024-10-04</text>
<text x="1977.3" y="850" textLength="158.4" lengthAdjust="spacing">2025-03-05</text>
<text x="2206.3" y="850" textLength="158.4" lengthAdjust="spacing">2025-07-31</text>
</g>
<g class="tt" text-anchor="middle">
<text transform="translate(59.6,182.2) rotate(-90)" textLength="97">Equity</text>
<text transform="translate(41.4,666) rotate(-90)" textLength="163.2">Drawdown</text>
</g>
</svg></body></html>
